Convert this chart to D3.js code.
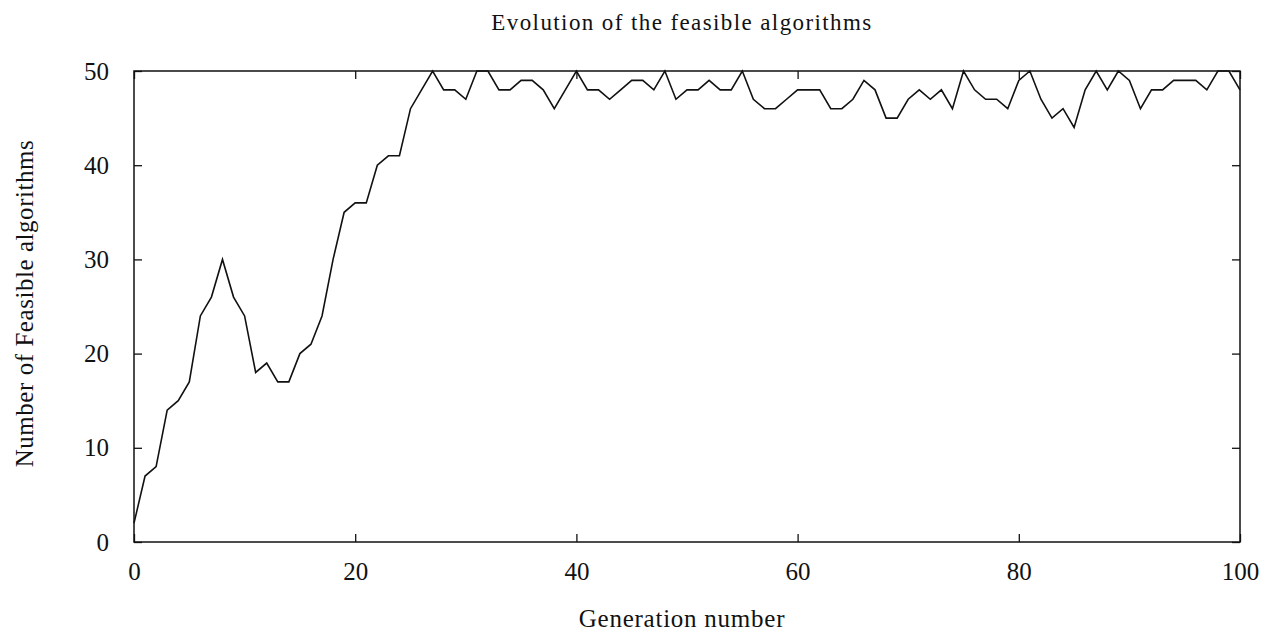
<!DOCTYPE html>
<html lang="en">
<head>
  <meta charset="utf-8">
  <title>Evolution of the feasible algorithms</title>
  <style>
    html, body { margin: 0; padding: 0; background: #fff; }
    svg { display: block; }
    text { font-family: "Liberation Serif", "DejaVu Serif", serif; fill: #111; }
    .axis path, .axis line { stroke: #111; stroke-width: 1.3; }
  </style>
</head>
<body>
<div id="chart"></div>

<script src="https://cdn.jsdelivr.net/npm/d3@7"></script>
<script>

  ////////////////////////////////////////////////// DATA

  // feasible algorithms per generation, generations 0..100
  var feasible = [
    2, 7, 8, 14, 15, 17, 24, 26, 30, 26,
    24, 18, 19, 17, 17, 20, 21, 24, 30, 35,
    36, 36, 40, 41, 41, 46, 48, 50, 48, 48,
    47, 50, 50, 48, 48, 49, 49, 48, 46, 48,
    50, 48, 48, 47, 48, 49, 49, 48, 50, 47,
    48, 48, 49, 48, 48, 50, 47, 46, 46, 47,
    48, 48, 48, 46, 46, 47, 49, 48, 45, 45,
    47, 48, 47, 48, 46, 50, 48, 47, 47, 46,
    49, 50, 47, 45, 46, 44, 48, 50, 48, 50,
    49, 46, 48, 48, 49, 49, 49, 48, 50, 50,
    48
  ];
  var generations = feasible.map(function(d, i) { return i; });

  var xTicks = [0, 20, 40, 60, 80, 100];
  var yTicks = [0, 10, 20, 30, 40, 50];

  ////////////////////////////////////////////////// SETUP

  var width = 1269, height = 634;
  var margin = {top: 71, right: 29, bottom: 92, left: 134};
  var plotWidth = width - margin.left - margin.right;
  var plotHeight = height - margin.top - margin.bottom;
  var textCenter = margin.left + plotWidth / 2 - 5;

  var svg = d3.select("#chart").append("svg")
    .attr("width", width)
    .attr("height", height);

  var g = svg.append("g")
    .attr("transform", "translate(" + margin.left + "," + margin.top + ")");

  var x = d3.scaleLinear().domain([0, 100]).range([0, plotWidth]);
  var y = d3.scaleLinear().domain([0, 50]).range([plotHeight, 0]);

  // axes with inward ticks, mirrored on top and right
  g.append("g").attr("class", "axis")
    .attr("transform", "translate(0," + plotHeight + ")")
    .call(d3.axisBottom(x).tickValues(xTicks).tickSizeInner(-8).tickSizeOuter(0).tickPadding(20))
    .selectAll("text").style("font-size", "25px");

  g.append("g").attr("class", "axis")
    .call(d3.axisLeft(y).tickValues(yTicks).tickSizeInner(-8).tickSizeOuter(0).tickPadding(25))
    .selectAll("text").style("font-size", "25px");

  g.append("g").attr("class", "axis")
    .call(d3.axisTop(x).tickValues(xTicks).tickSizeInner(-8).tickSizeOuter(0).tickFormat(""));

  g.append("g").attr("class", "axis")
    .attr("transform", "translate(" + plotWidth + ",0)")
    .call(d3.axisRight(y).tickValues(yTicks).tickSizeInner(-8).tickSizeOuter(0).tickFormat(""));

  g.selectAll(".axis .domain").remove();

  // frame
  g.append("rect")
    .attr("width", plotWidth)
    .attr("height", plotHeight)
    .attr("fill", "none")
    .attr("stroke", "#111")
    .attr("stroke-width", 1.5);

  // line
  var line = d3.line()
    .x(function(d, i) { return x(generations[i]); })
    .y(function(d) { return y(d); });

  g.append("path")
    .datum(feasible)
    .attr("d", line)
    .attr("fill", "none")
    .attr("stroke", "#111")
    .attr("stroke-width", 1.6)
    .attr("stroke-linejoin", "miter");

  // titles
  svg.append("text")
    .attr("x", textCenter)
    .attr("y", 30)
    .attr("text-anchor", "middle")
    .style("font-size", "23px")
    .style("letter-spacing", "1.4px")
    .text("Evolution of the feasible algorithms");

  svg.append("text")
    .attr("x", textCenter)
    .attr("y", 627)
    .attr("text-anchor", "middle")
    .style("font-size", "25px")
    .style("letter-spacing", "0.75px")
    .text("Generation number");

  svg.append("text")
    .attr("transform", "translate(33," + (margin.top + plotHeight / 2 - 3) + ") rotate(-90)")
    .attr("text-anchor", "middle")
    .style("font-size", "25px")
    .style("letter-spacing", "0.55px")
    .text("Number of Feasible algorithms");

</script>
</body>
</html>
